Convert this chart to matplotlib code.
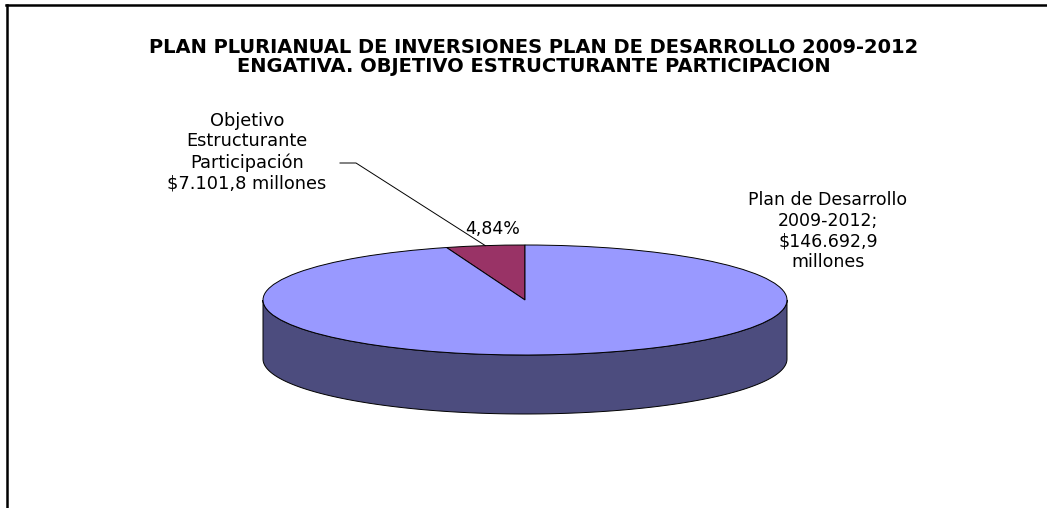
import numpy as np
import matplotlib
matplotlib.use("Agg")
import matplotlib.pyplot as plt
from matplotlib.lines import Line2D
from matplotlib.patches import Polygon

plt.rcParams['font.family'] = ['DejaVu Sans']

# data (millones de pesos)
total_plan = 146692.9
objetivo = 7101.8
slice_names = ["Objetivo Estructurante Participación", "Resto Plan de Desarrollo"]
slice_values = [objetivo, total_plan - objetivo]
slice_colors = ["#993366", "#9999FF"]
side_color = "#4C4C7E"

titulo = "PLAN PLURIANUAL DE INVERSIONES PLAN DE DESARROLLO 2009-2012\nENGATIVA. OBJETIVO ESTRUCTURANTE PARTICIPACION"
label_obj = "Objetivo\nEstructurante\nParticipación\n$7.101,8 millones"
label_plan = "Plan de Desarrollo\n2009-2012;\n$146.692,9\nmillones"

W, H = 1047, 508
fig = plt.figure(figsize=(W / 100, H / 100), dpi=100)
fig.patch.set_facecolor("white")

# ellipse geometry in pixels: center, semi-axes, depth
cx, cy, a, b, depth = 525, 300, 262, 55, 59
ax = fig.add_axes([0, 0, 1, 1])

# pie in unit-circle coords, squashed into ellipse by axis limits
wedges, _ = ax.pie(slice_values, colors=slice_colors, startangle=90, counterclock=True,
                   wedgeprops=dict(edgecolor="black", linewidth=0.7), radius=1.0)
ax.set_aspect("auto")
ax.set_xlim((0 - cx) / a, (W - cx) / a)
ax.set_ylim((cy - H) / b, cy / b)
ax.axis("off")

# side of the cylinder (front half)
d = depth / b
t = np.linspace(np.pi, 2 * np.pi, 200)
top = np.column_stack([np.cos(t), np.sin(t)])
bot = np.column_stack([np.cos(t[::-1]), np.sin(t[::-1]) - d])
side = Polygon(np.vstack([top, bot]), closed=True, facecolor=side_color,
               edgecolor="black", linewidth=0.7, zorder=0)
ax.add_patch(side)
for w in wedges:
    w.set_zorder(2)

# labels
frac = slice_values[0] / sum(slice_values)
mid = np.deg2rad(90 + frac * 360 / 2)
ex, ey = np.cos(mid), np.sin(mid)

def px(x, y):
    return (x - cx) / a, (cy - y) / b

pcx, pcy = px(493, 229)
ax.text(pcx, pcy, f"{frac * 100:.2f}%".replace(".", ","), ha="center", va="center", fontsize=12.5)

lx, ly = px(247, 152)
ax.text(lx, ly, label_obj, ha="center", va="center", fontsize=12.8, linespacing=1.2)
hx0, hy0 = px(340, 163)
hx1, _ = px(356, 163)
ax.plot([hx0, hx1, ex], [hy0, hy0, ey], color="black", linewidth=0.7, zorder=3)

px2, py2 = px(828, 231)
ax.text(px2, py2, label_plan, ha="center", va="center", fontsize=12.5, linespacing=1.2)

tx, ty = px(534, 57)
ax.text(tx, ty, titulo, ha="center", va="center", fontsize=14, fontweight="bold", linespacing=1.05)

# outer frame (top and left edges visible)
fig.add_artist(Line2D([6 / W, 1], [1 - 5 / H, 1 - 5 / H], color="black", linewidth=1.8,
                      transform=fig.transFigure))
fig.add_artist(Line2D([7 / W, 7 / W], [0, 1 - 5 / H], color="black", linewidth=1.8,
                      transform=fig.transFigure))

fig.savefig("out.png", dpi=100, facecolor="white")
